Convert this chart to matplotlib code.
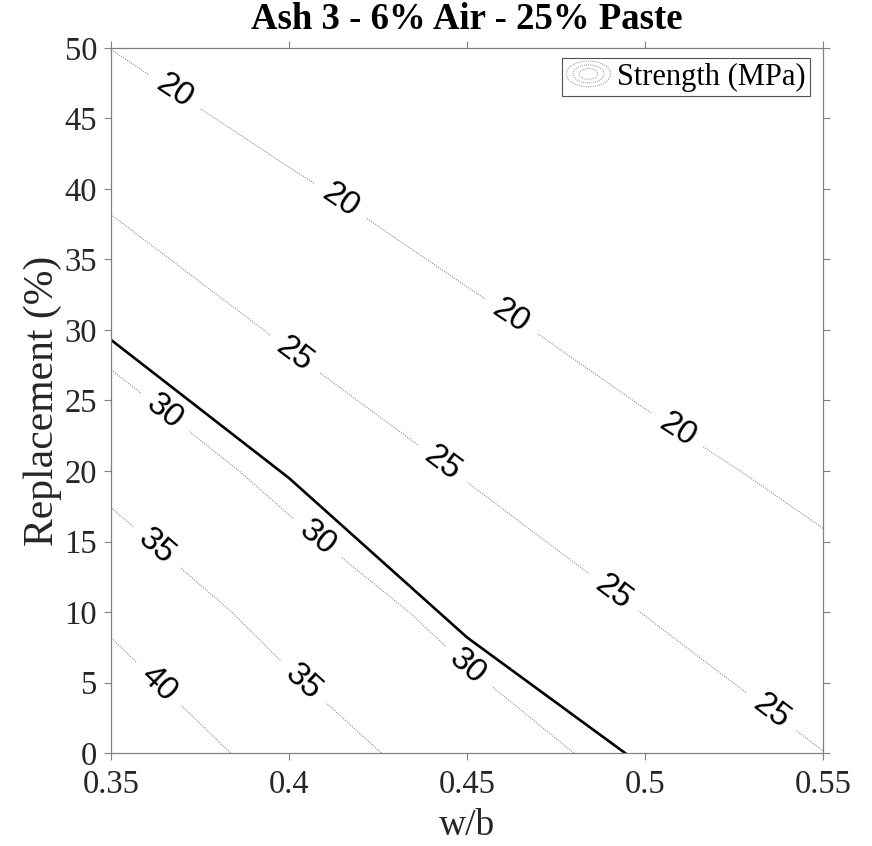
import numpy as np
import matplotlib
matplotlib.use("Agg")
import matplotlib.pyplot as plt
from matplotlib.legend_handler import HandlerBase
from matplotlib.patches import Ellipse, Patch

# grid of strength values (MPa)
wb = [0.35, 0.40, 0.45, 0.50, 0.55]
replacement = [0, 10, 20, 30, 40, 50]
strength = [
    [44.5, 37.8, 32.4, 28.4, 25.05],
    [39.0, 33.1, 28.5, 24.9, 21.9],
    [33.6, 28.6, 24.7, 21.5, 18.7],
    [28.6, 24.4, 21.1, 18.1, 15.6],
    [24.2, 20.6, 17.5, 14.8, 12.4],
    [19.95, 16.7, 13.9, 11.4, 9.2],
]
levels = [20, 25, 30, 35, 40]

# solid limit line
limit_wb = [0.35, 0.40, 0.45, 0.4944]
limit_repl = [29.3, 19.5, 8.2, 0.0]

xtick_vals = [0.35, 0.40, 0.45, 0.50, 0.55]
xtick_labels = ["0.35", "0.4", "0.45", "0.5", "0.55"]
ytick_vals = [0, 5, 10, 15, 20, 25, 30, 35, 40, 45, 50]

# where the inline labels sit
label_spots = [
    (0.3677, 46.9), (0.4135, 38.9), (0.4610, 30.5), (0.5084, 22.7),
    (0.4011, 28.1), (0.4433, 20.6), (0.4893, 10.8), (0.5343, 2.6),
    (0.3646, 24.0), (0.4067, 14.9), (0.4489, 5.7),
    (0.3624, 14.5), (0.4045, 5.2),
    (0.3629, 4.8),
]


class ContourIcon(HandlerBase):
    def create_artists(self, legend, orig_handle, xdescent, ydescent,
                       width, height, fontsize, trans):
        cx = width / 2 - xdescent
        cy = height / 2 - ydescent
        arts = []
        for k in (1.0, 0.7, 0.42):
            arts.append(Ellipse((cx, cy), width * k, height * 1.2 * k,
                                fill=False, ec='0.55', lw=0.7,
                                ls=(0, (1, 1.2)), transform=trans))
        return arts


serif = 'Liberation Serif'
gray = '#808080'

fig = plt.figure(figsize=(8.72, 8.46), dpi=100)
ax = fig.add_axes([0.1273, 0.1099, 0.8165, 0.8334])

X, Y = np.meshgrid(wb, replacement)
cs = ax.contour(X, Y, np.array(strength), levels=levels, colors='0.5',
                linewidths=0.75, linestyles=[(0, (1, 1.3))])
ax.clabel(cs, manual=label_spots, inline=True, inline_spacing=10,
          fmt='%d', fontsize=24, colors='black')
for t in cs.labelTexts:
    t.set_fontfamily('Liberation Sans')

ax.plot(limit_wb, limit_repl, color='black', lw=1.9, solid_joinstyle='round')

ax.set_xlim(0.35, 0.55)
ax.set_ylim(0, 50)
ax.set_xticks(xtick_vals)
ax.set_xticklabels(xtick_labels)
ax.set_yticks(ytick_vals)
for lab in ax.get_xticklabels() + ax.get_yticklabels():
    lab.set_fontfamily(serif)
    lab.set_fontsize(23.5)
    lab.set_color('#262626')
ax.tick_params(direction='out', top=True, right=True, length=5, width=0.8,
               color=gray)
ax.tick_params(axis='x', pad=7)
ax.tick_params(axis='y', pad=5)
for sp in ax.spines.values():
    sp.set_color(gray)
    sp.set_linewidth(0.9)

ax.set_xlabel('w/b', fontfamily=serif, fontsize=27, color='#262626', labelpad=6)
ax.set_ylabel('Replacement (%)', fontfamily=serif, fontsize=30, color='#262626',
              labelpad=2)
ax.set_title('Ash 3 - 6% Air - 25% Paste', fontfamily=serif, fontsize=26.5,
             fontweight='bold', pad=14)

proxy = Patch()
leg = ax.legend([proxy], ['Strength (MPa)'], handler_map={proxy: ContourIcon()},
                loc='upper right', bbox_to_anchor=(0.9817, 0.9858),
                borderaxespad=0, fancybox=False, frameon=True,
                prop={'family': serif, 'size': 22},
                handlelength=1.45, handletextpad=0.2, borderpad=0.15)
leg.get_frame().set_edgecolor('#262626')
leg.get_frame().set_linewidth(0.8)

fig.savefig('out.png', dpi=100, facecolor='white')
